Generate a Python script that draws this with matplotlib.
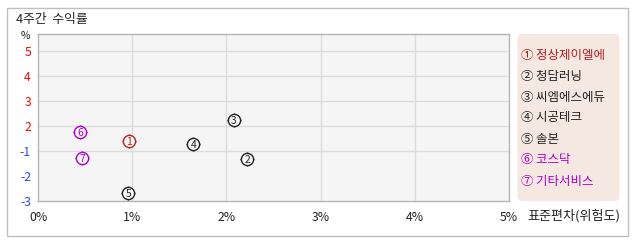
import numpy as np
import matplotlib
matplotlib.use("Agg")
import matplotlib.pyplot as plt
from matplotlib.patches import FancyBboxPatch, Rectangle
from matplotlib.transforms import IdentityTransform

plt.rcParams['font.family'] = ['Noto Sans CJK KR', 'DejaVu Sans']

# ---- data ----
names = ['정상제이엘에', '청담러닝', '씨엠에스에듀', '시공테크', '솔본', '코스닥', '기타서비스']
marks = ['①', '②', '③', '④', '⑤', '⑥', '⑦']
digits = ['1', '2', '3', '4', '5', '6', '7']
std_dev = [0.97, 2.22, 2.08, 1.65, 0.96, 0.45, 0.47]      # x, %
returns = [0.23, -1.33, 2.24, -0.19, -2.68, 1.31, -1.29]  # y, %
colors = ['#b22222', '#222222', '#222222', '#222222', '#222222', '#aa00cc', '#aa00cc']

ytick_vals = [-3, -2, -1, 2, 3, 4, 5]
ygrid_vals = [-1, 2, 3, 4, 5]
xtick_vals = [0, 1, 2, 3, 4, 5]
xtick_labels = ['0%', '1%', '2%', '3%', '4%', '5%']

# evenly spaced positions for the axis labels (the axis is labelled unevenly)
_lab = np.array([-4, -3, -2, -1, 2, 3, 4, 5, 6], dtype=float)
_pos = np.arange(len(_lab), dtype=float)

def fwd(v):
    return np.interp(v, _lab, _pos)

def inv(p):
    return np.interp(p, _pos, _lab)

W, H = 638, 242
fig = plt.figure(figsize=(W / 100, H / 100), dpi=100)

def fx(px):
    return px / W

def fy(py):
    return 1 - py / H

# outer border
fig.add_artist(Rectangle((6.5, H - 235.5), 621, 228, transform=IdentityTransform(),
                         fill=False, edgecolor='#c0c0c0', linewidth=1.0))

L, R, T, B = 38, 509, 34, 201
ax = fig.add_axes([fx(L), fy(B), (R - L) / W, (B - T) / H])
ax.set_facecolor('#f5f5f5')
ax.set_yscale('function', functions=(fwd, inv))
ax.set_xlim(0, 5)
ax.set_ylim(-3, inv(fwd(5) + 0.68))

for s in ax.spines.values():
    s.set_color('#b4b4b4')
    s.set_linewidth(1.0)

for g in ygrid_vals:
    ax.axhline(g, color='#dcdcdc', lw=1.0, zorder=1)
for g in xtick_vals[1:-1]:
    ax.axvline(g, color='#dcdcdc', lw=1.0, zorder=1)

ax.set_yticks(ytick_vals)
ax.set_yticklabels([str(v) for v in ytick_vals])
ax.yaxis.set_minor_locator(matplotlib.ticker.NullLocator())
for lbl, v in zip(ax.get_yticklabels(), ytick_vals):
    lbl.set_color('#ff0000' if v > 0 else '#3344ff')
ax.set_xticks(xtick_vals)
ax.set_xticklabels(xtick_labels)
ax.tick_params(axis='both', length=0, labelsize=8.8)
ax.tick_params(axis='y', pad=5)
ax.tick_params(axis='x', pad=7, labelcolor='#222222')

# markers
for x, y, c, d in zip(std_dev, returns, colors, digits):
    ax.plot([x], [y], marker='+', markersize=10.4, mew=1.0, color=c, zorder=3)
    ax.plot([x], [y], marker='o', markersize=8.8, mew=1.0, mec=c, mfc='#f5f5f5', zorder=4)
    ax.text(x, y, d, color=c, fontsize=7.4, ha='center', va='center_baseline', zorder=5)

# texts
fig.text(fx(16), fy(20), '4주간  수익률', fontsize=9.2, color='#222222', ha='left', va='center')
fig.text(fx(25), fy(36), '%', fontsize=7.5, color='#222222', ha='center', va='center')
fig.text(fx(527), fy(216), '표준편차(위험도)', fontsize=9.4, color='#222222', ha='left', va='center')

# legend
fig.add_artist(FancyBboxPatch((517.5, H - 201), 102, 167, transform=IdentityTransform(),
                              boxstyle='round,pad=0,rounding_size=5',
                              facecolor='#f5e8e0', edgecolor='none'))
for i, (m, n, c) in enumerate(zip(marks, names, colors)):
    fig.text(fx(521), fy(55 + i * 21), m + '\u2009' + n, fontsize=9.0, color=c,
             ha='left', va='center')

fig.savefig('out.png', dpi=100)
